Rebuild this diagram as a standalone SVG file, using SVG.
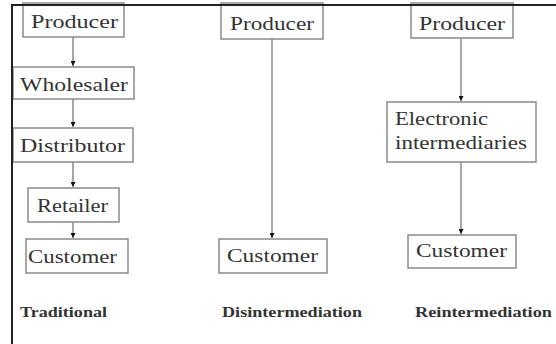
<svg xmlns="http://www.w3.org/2000/svg" width="556" height="344" viewBox="0 0 556 344">
<defs>
<style>
.box{fill:#fff;stroke:#8a8a8a;stroke-width:1.5}
.t{font-family:"Liberation Serif","Times New Roman",serif;font-size:18px;fill:#333}
.lab{font-family:"Liberation Serif","Times New Roman",serif;font-size:14px;font-weight:bold;fill:#333}
.c{stroke:#8a8a8a;stroke-width:1.5;fill:none}
</style>
<marker id="ah" viewBox="0 0 6 6" refX="6" refY="3" markerWidth="5" markerHeight="5" markerUnits="userSpaceOnUse" orient="auto">
<path d="M0,0 L6,3 L0,6 Z" fill="#111"/>
</marker>
</defs>
<rect width="556" height="344" fill="#fff"/>
<g id="connectors">
<line class="c" x1="73" y1="37" x2="73" y2="66" marker-end="url(#ah)"/>
<line class="c" x1="73" y1="99" x2="73" y2="127" marker-end="url(#ah)"/>
<line class="c" x1="73" y1="162" x2="73" y2="187" marker-end="url(#ah)"/>
<line class="c" x1="73" y1="222" x2="73" y2="238" marker-end="url(#ah)"/>
<line class="c" x1="272" y1="39" x2="272" y2="238" marker-end="url(#ah)"/>
<line class="c" x1="461" y1="38" x2="461" y2="101" marker-end="url(#ah)"/>
<line class="c" x1="461" y1="162" x2="461" y2="234" marker-end="url(#ah)"/>
</g>
<g id="trad-producer"><rect class="box" x="23" y="3" width="101" height="34"/><text class="t" x="31" y="28" textLength="87" lengthAdjust="spacingAndGlyphs">Producer</text></g>
<g id="trad-wholesaler"><rect class="box" x="13" y="67" width="121" height="32"/><text class="t" x="20" y="91" textLength="108" lengthAdjust="spacingAndGlyphs">Wholesaler</text></g>
<g id="trad-distributor"><rect class="box" x="13" y="128" width="120" height="34"/><text class="t" x="20" y="152" textLength="105" lengthAdjust="spacingAndGlyphs">Distributor</text></g>
<g id="trad-retailer"><rect class="box" x="28" y="188" width="91" height="34"/><text class="t" x="37" y="212" textLength="71" lengthAdjust="spacingAndGlyphs">Retailer</text></g>
<g id="trad-customer"><rect class="box" x="26" y="239" width="102" height="34"/><text class="t" x="28" y="263" textLength="89" lengthAdjust="spacingAndGlyphs">Customer</text></g>
<g id="dis-producer"><rect class="box" x="221" y="3" width="102" height="36"/><text class="t" x="230" y="30" textLength="84" lengthAdjust="spacingAndGlyphs">Producer</text></g>
<g id="dis-customer"><rect class="box" x="219" y="239" width="108" height="34"/><text class="t" x="227" y="262" textLength="91" lengthAdjust="spacingAndGlyphs">Customer</text></g>
<g id="re-producer"><rect class="box" x="411" y="3" width="102" height="35"/><text class="t" x="419" y="30" textLength="86" lengthAdjust="spacingAndGlyphs">Producer</text></g>
<g id="re-electronic"><rect class="box" x="387" y="102" width="149" height="60"/><text class="t" x="395" y="125" textLength="93" lengthAdjust="spacingAndGlyphs">Electronic</text><text class="t" x="395" y="149" textLength="132" lengthAdjust="spacingAndGlyphs">intermediaries</text></g>
<g id="re-customer"><rect class="box" x="408" y="235" width="108" height="33"/><text class="t" x="416" y="257" textLength="91" lengthAdjust="spacingAndGlyphs">Customer</text></g>
<g id="labels">
<text class="lab" x="20" y="317" textLength="87" lengthAdjust="spacingAndGlyphs">Traditional</text>
<text class="lab" x="222" y="317" textLength="140" lengthAdjust="spacingAndGlyphs">Disintermediation</text>
<text class="lab" x="415" y="317" textLength="137" lengthAdjust="spacingAndGlyphs">Reintermediation</text>
</g>
<g id="frame">
<line x1="11" y1="5" x2="556" y2="5" stroke="#222" stroke-width="2"/>
<line x1="12" y1="4" x2="12" y2="344" stroke="#222" stroke-width="2"/>
</g>
</svg>
